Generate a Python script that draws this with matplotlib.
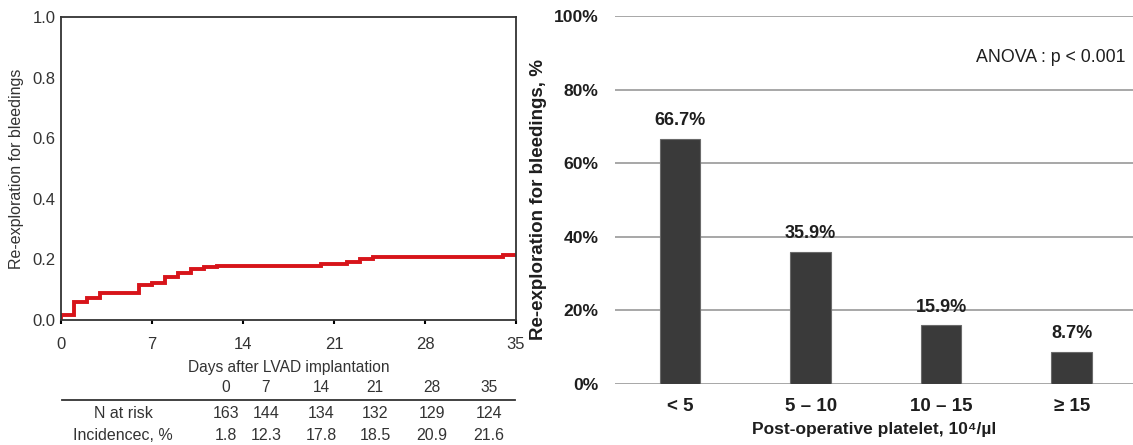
import matplotlib.pyplot as plt

plt.rcParams['font.family'] = ['Liberation Sans', 'DejaVu Sans']

# Cumulative incidence of re-exploration (step curve)
days = [0, 0, 1, 2, 3, 6, 7, 8, 9, 10, 11, 12, 20, 22, 23, 24, 34, 35]
incidence = [0.0, 0.018, 0.06, 0.073, 0.09, 0.117, 0.123, 0.143, 0.154, 0.168,
             0.175, 0.178, 0.185, 0.19, 0.2, 0.209, 0.216, 0.216]
day_ticks = [0, 7, 14, 21, 28, 35]

# Numbers at risk table
table_days = ['0', '7', '14', '21', '28', '35']
n_at_risk = ['163', '144', '134', '132', '129', '124']
incidence_pct = ['1.8', '12.3', '17.8', '18.5', '20.9', '21.6']

# Re-exploration rate by platelet group
platelet_groups = ['< 5', '5 – 10', '10 – 15', '≥ 15']
reexploration = [66.7, 35.9, 15.9, 8.7]

W, H = 1133, 445
fig = plt.figure(figsize=(W / 100, H / 100), dpi=100)

def px(x, y):
    return x / W, 1 - y / H

grey_txt = '#333333'
dark_txt = '#1e1e1e'

# ---- left panel: cumulative incidence ----
ax1 = fig.add_axes([61 / W, 1 - 320 / H, (516 - 61) / W, (320 - 17) / H])
ax1.step(days, incidence, where='post', color='#d7141a', lw=2.8, solid_joinstyle='miter')
ax1.set_xlim(0, 35)
ax1.set_ylim(0, 1.0)
ax1.set_xticks(day_ticks)
ax1.set_yticks([0, 0.2, 0.4, 0.6, 0.8, 1.0])
ax1.set_yticklabels(['0.0', '0.2', '0.4', '0.6', '0.8', '1.0'])
ax1.tick_params(axis='x', direction='out', length=3, width=1.5, labelsize=12,
                labelcolor=grey_txt, pad=9)
ax1.tick_params(axis='y', length=0, labelsize=12, labelcolor=grey_txt, pad=4)
for s in ax1.spines.values():
    s.set_color(grey_txt)
    s.set_linewidth(1.3)
ax1.set_ylabel('Re-exploration for bleedings', fontsize=11.5, color=grey_txt, labelpad=6)
ax1.set_xlabel('Days after LVAD implantation', fontsize=11.2, color=grey_txt, labelpad=6)

# numbers-at-risk table under the left panel
col_x = [226, 266, 321, 375, 432, 489]
for x, d, n, inc in zip(col_x, table_days, n_at_risk, incidence_pct):
    fig.text(*px(x, 388), d, ha='center', va='center', fontsize=11.2, color=grey_txt)
    fig.text(*px(x, 413), n, ha='center', va='center', fontsize=11.5, color=grey_txt)
    fig.text(*px(x, 436), inc, ha='center', va='center', fontsize=11.5, color=grey_txt)
fig.text(*px(123, 413), 'N at risk', ha='center', va='center', fontsize=11.5, color=grey_txt)
fig.text(*px(123, 436), 'Incidencec, %', ha='center', va='center', fontsize=11.5, color=grey_txt)
fig.add_artist(plt.Line2D([62 / W, 515 / W], [1 - 400 / H, 1 - 400 / H],
                          color=grey_txt, lw=1.3))

# ---- right panel: bar chart ----
ax2 = fig.add_axes([615 / W, 1 - 384 / H, (W - 615) / W, (384 - 16) / H])
xpos = list(range(len(platelet_groups)))
ax2.bar(xpos, reexploration, width=0.31, color='#3a3a3a', edgecolor='#6a6a6a',
        linewidth=0.8, zorder=3)
for x, v in zip(xpos, reexploration):
    ax2.annotate(f'{v}%', (x, v), xytext=(0, 7), textcoords='offset points',
                 ha='center', va='bottom', fontsize=13, fontweight='bold',
                 color=dark_txt, zorder=4)
ax2.set_xlim(-0.5, 3.47)
ax2.set_ylim(0, 100)
ax2.set_yticks([0, 20, 40, 60, 80, 100])
ax2.set_yticklabels([f'{t}%' for t in range(0, 101, 20)])
ax2.yaxis.grid(True, color='#a0a0a0', lw=1.3, zorder=0)
ax2.set_axisbelow(True)
for s in ax2.spines.values():
    s.set_visible(False)
ax2.set_xticks(xpos)
ax2.set_xticklabels(platelet_groups)
ax2.tick_params(length=0, labelsize=13.5, labelcolor=dark_txt)
ax2.tick_params(axis='y', labelsize=12.6, pad=12)
ax2.tick_params(axis='x', pad=10)
for lab in ax2.get_xticklabels() + ax2.get_yticklabels():
    lab.set_fontweight('bold')
ax2.set_ylabel('Re-exploration for bleedings, %', fontsize=13.5, fontweight='bold',
               color=dark_txt, labelpad=5)
ax2.set_xlabel('Post-operative platelet, 10⁴/µl', fontsize=12.5, fontweight='bold',
               color=dark_txt, labelpad=5)
ax2.text(*px(1126, 58), 'ANOVA : p < 0.001', transform=fig.transFigure,
         ha='right', va='center', fontsize=12.8, color=dark_txt)

fig.savefig('out.png', dpi=100)
